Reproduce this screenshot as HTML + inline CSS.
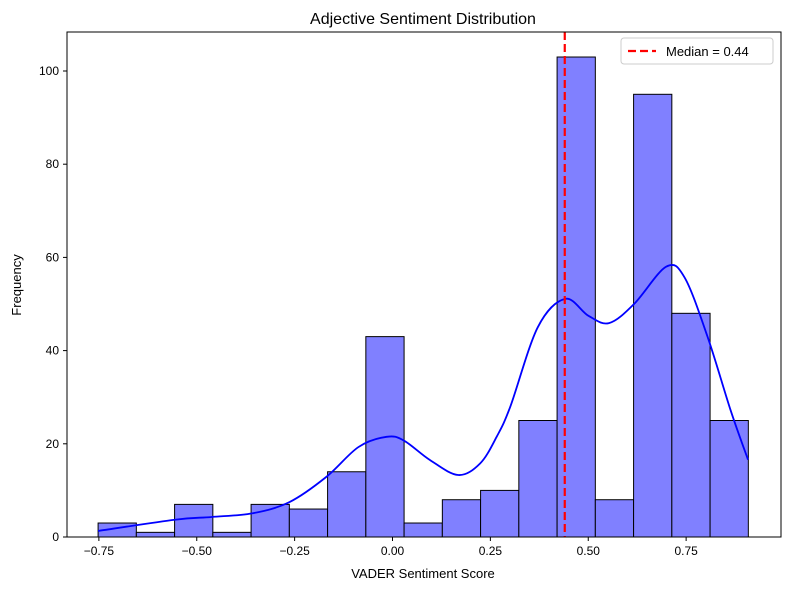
<!DOCTYPE html>
<html><head><meta charset="utf-8"><style>
body{margin:0;background:#fff}
svg{font-family:"Liberation Sans","DejaVu Sans",sans-serif}
</style></head><body>
<svg id="chart" width="790" height="590" viewBox="0 0 790 590">
<rect width="790" height="590" fill="#fff"/>
<text x="423" y="24" text-anchor="middle" font-size="16">Adjective Sentiment Distribution</text>
<g id="bars"></g>
<path id="kde" fill="none" stroke="#0000ff" stroke-width="1.8"/>
<line id="median" stroke="#ff0000" stroke-width="2.2" stroke-dasharray="8,4"/>
<rect x="67" y="32" width="714" height="505" fill="none" stroke="#000" stroke-width="1"/>
<g id="xticks"></g>
<g id="yticks"></g>
<text x="423" y="578" text-anchor="middle" font-size="13">VADER Sentiment Score</text>
<text x="21" y="285" text-anchor="middle" font-size="13" transform="rotate(-90 21 285)">Frequency</text>
<g>
<rect x="621" y="38" width="152" height="26" rx="3" fill="#fff" stroke="#ccc"/>
<line x1="628" y1="51" x2="656" y2="51" stroke="#ff0000" stroke-width="2.2" stroke-dasharray="8,4"/>
<text x="666" y="56" font-size="13">Median = 0.44</text>
</g>
</svg>
<script>
const counts=[3,1,7,1,7,6,14,43,3,8,10,25,103,8,95,48,25];
const binStart=-0.752;
const binWidth=0.0977;
const kdeX=[-0.752,-0.556,-0.462,-0.357,-0.263,-0.169,-0.087,-0.015,0.029,0.096,0.168,0.224,0.266,0.301,0.371,0.441,0.500,0.553,0.617,0.699,0.746,0.805,0.864,0.908];
const kdeY=[1.3,3.7,4.3,5.1,7.5,12.9,19.3,21.5,20.7,16.5,13.3,15.8,21.5,28,45,51.1,47.5,45.9,50,58,55.7,42.9,27.1,16.6];
const medianValue=0.44;
const xTickVals=[-0.75,-0.5,-0.25,0,0.25,0.5,0.75];
const xTickLabels=["\u22120.75","\u22120.50","\u22120.25","0.00","0.25","0.50","0.75"];
const yTickVals=[0,20,40,60,80,100];

const NS="http://www.w3.org/2000/svg";
const sx=v=>392.5+v*391.5;
const sy=v=>537-v*4.66;
function mk(tag,attrs,parent){const e=document.createElementNS(NS,tag);for(const k in attrs)e.setAttribute(k,attrs[k]);parent.appendChild(e);return e;}
const bars=document.getElementById('bars');
counts.forEach((c,i)=>{
  const x0=sx(binStart+i*binWidth),x1=sx(binStart+(i+1)*binWidth);
  const r=mk('rect',{x:x0,y:sy(c),width:x1-x0,height:sy(0)-sy(c),fill:'#8080ff',stroke:'#000','stroke-width':1},bars);
  
  
});
const pts=kdeX.map((x,i)=>[sx(x),sy(kdeY[i])]);
let d='M'+pts[0][0]+','+pts[0][1];
for(let i=0;i<pts.length-1;i++){
  const p0=pts[Math.max(0,i-1)],p1=pts[i],p2=pts[i+1],p3=pts[Math.min(pts.length-1,i+2)];
  const c1=[p1[0]+(p2[0]-p0[0])/6,p1[1]+(p2[1]-p0[1])/6];
  const c2=[p2[0]-(p3[0]-p1[0])/6,p2[1]-(p3[1]-p1[1])/6];
  d+=' C'+c1+' '+c2+' '+p2;
}
document.getElementById('kde').setAttribute('d',d);
const m=document.getElementById('median');
m.setAttribute('x1',sx(medianValue));m.setAttribute('x2',sx(medianValue));
m.setAttribute('y1',32);m.setAttribute('y2',537);
const xg=document.getElementById('xticks');
xTickVals.forEach((v,i)=>{
  const x=sx(v);
  const l=mk('line',{x1:x,x2:x,y1:537,y2:541,stroke:'#000'},xg);
  
  
  const t=mk('text',{x:x,y:555,'text-anchor':'middle','font-size':12},xg);
  t.textContent=xTickLabels[i];
  
  
});
const yg=document.getElementById('yticks');
yTickVals.forEach(v=>{
  const y=sy(v);
  const l=mk('line',{x1:63,x2:67,y1:y,y2:y,stroke:'#000'},yg);
  
  
  const t=mk('text',{x:59,y:y+4,'text-anchor':'end','font-size':12},yg);
  t.textContent=String(v);
  
  
});
</script>
</body></html>
